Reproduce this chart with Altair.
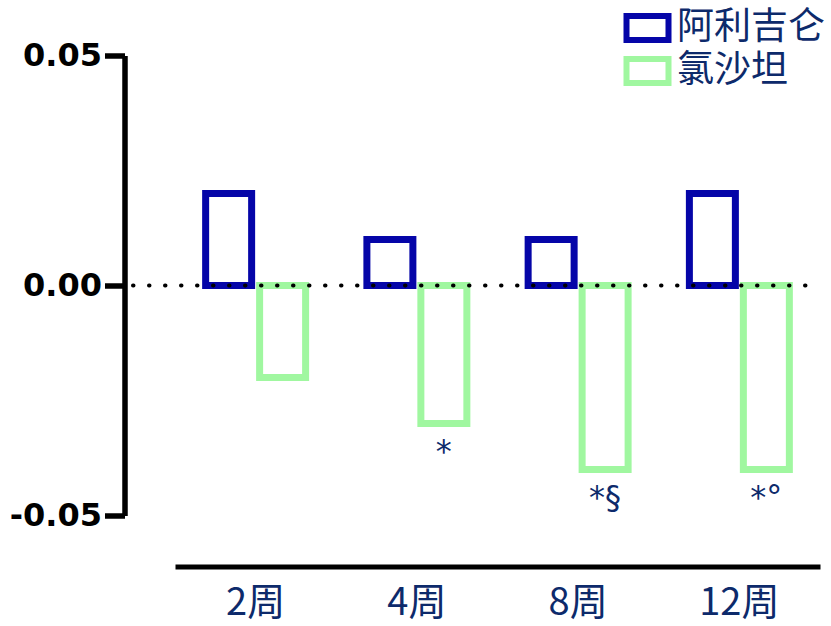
import altair as alt
import pandas as pd

weeks = ["2周", "4周", "8周", "12周"]
drugs = ["阿利吉仑", "氯沙坦"]
aliskiren = [0.02, 0.01, 0.01, 0.02]
losartan = [-0.02, -0.03, -0.04, -0.04]
notes = ["", "*", "*§", "*°"]

blue = "#0505a8"
green = "#a0f7a0"
navy = "#0d2a6b"

rows = []
for w, a, l, n in zip(weeks, aliskiren, losartan, notes):
    rows.append({"week": w, "drug": drugs[0], "value": a, "note": ""})
    rows.append({"week": w, "drug": drugs[1], "value": l, "note": n})
df = pd.DataFrame(rows)

W, H = 645, 460

x_enc = alt.X("week:N", sort=weeks,
              scale=alt.Scale(paddingInner=0.38, paddingOuter=0.19),
              axis=alt.Axis(title=None, orient="bottom", offset=51, ticks=False,
                            domainColor="black", domainWidth=5,
                            labelFont="Noto Sans CJK SC", labelFontSize=38,
                            labelColor=navy, labelPadding=18, labelAngle=0))
xo_enc = alt.XOffset("drug:N", sort=drugs,
                     scale=alt.Scale(paddingInner=0.148, paddingOuter=0))

bars = alt.Chart(df).mark_bar(filled=False, strokeWidth=7, strokeJoin="miter").encode(
    x=x_enc,
    xOffset=xo_enc,
    y=alt.Y("value:Q", scale=alt.Scale(domain=[-0.05, 0.05], nice=False, zero=True),
            axis=alt.Axis(title=None, values=[-0.05, 0, 0.05], format=".2f",
                          labelExpr="replace(datum.label, '\u2212', '-')",
                          offset=50.5, grid=False, tickSize=20, tickWidth=5.5,
                          tickColor="black", domainColor="black", domainWidth=5.5,
                          labelFont="DejaVu Sans", labelFontWeight="bold",
                          labelFontSize=32, labelColor="black", labelPadding=3)),
    color=alt.Color("drug:N", sort=drugs,
                    scale=alt.Scale(domain=drugs, range=[blue, green]),
                    legend=alt.Legend(title=None, orient="none", legendX=454, legendY=-46,
                                      symbolType="M-2.1,-1.2H2.1V1.2H-2.1Z", symbolSize=400,
                                      symbolStrokeWidth=6, labelFont="Noto Sans CJK SC",
                                      labelFontSize=37, labelColor=navy, labelOffset=11,
                                      rowPadding=-15, padding=0, labelLimit=300)),
)

zero = alt.Chart(pd.DataFrame({"v": [0]})).mark_rule(
    color="black", strokeWidth=4, strokeDash=[0.5, 15.5], strokeCap="round"
).encode(y="v:Q", x=alt.value(-42), x2=alt.value(W))

labels = alt.Chart(df).transform_filter("datum.note != ''").mark_text(
    baseline="top", align="center", dy=13, fontSize=32, color=navy, font="DejaVu Sans"
).encode(
    x=alt.X("week:N", sort=weeks),
    xOffset=alt.XOffset("drug:N", sort=drugs),
    y="value:Q",
    text="note:N",
)

chart = alt.layer(bars, zero, labels).properties(
    width=W, height=H,
    background="white",
    autosize=alt.AutoSizeParams(type="none"),
    padding={"left": 175, "top": 55.5, "right": 11, "bottom": 110.5},
).configure_view(stroke=None, strokeWidth=0)

chart.save("out.html", embed_options={"renderer": "svg", "actions": False})
